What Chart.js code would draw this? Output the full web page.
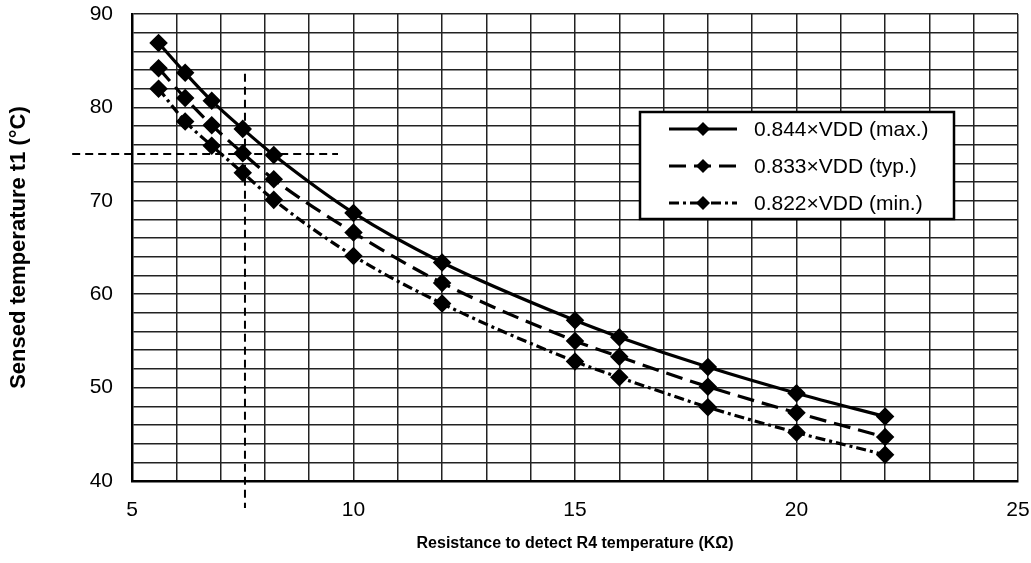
<!DOCTYPE html>
<html>
<head>
<meta charset="utf-8">
<script src="https://cdn.jsdelivr.net/npm/chart.js@4"></script>
<style>
  html, body { margin: 0; padding: 0; background: #fff; }
  #wrap { width: 1031px; height: 563px; }
</style>
</head>
<body>
<div id="wrap"><canvas id="chart" width="1031" height="563"></canvas></div>
<script>
// resistance values (kOhm)
const resist = [5.6, 6.2, 6.8, 7.5, 8.2, 10, 12, 15, 16, 18, 20, 22];
const tMax = [86.9, 83.7, 80.7, 77.7, 74.9, 68.7, 63.4, 57.2, 55.4, 52.2, 49.4, 46.9];
const tTyp = [84.2, 81.0, 78.1, 75.1, 72.3, 66.6, 61.2, 55.0, 53.3, 50.1, 47.3, 44.7];
const tMin = [82.0, 78.5, 75.9, 73.0, 70.1, 64.1, 59.0, 52.8, 51.1, 47.9, 45.2, 42.8];
const seriesNames = ['0.844×VDD (max.)', '0.833×VDD (typ.)', '0.822×VDD (min.)'];
const dashes = [[], [17, 8], [10, 4, 3, 4]];
// reading guide: R4 = 7.55 k -> 75 °C
const guideX = 7.55, guideY = 75;

const toPts = arr => resist.map((r, i) => ({x: r, y: arr[i]}));

const mkSet = (label, arr, dash) => ({
  label: label,
  data: toPts(arr),
  borderColor: '#000',
  backgroundColor: '#000',
  borderWidth: 3.2,
  borderDash: dash,
  pointStyle: 'rectRot',
  pointRadius: 7,
  pointHoverRadius: 7,
  tension: 0.3,
  cubicInterpolationMode: 'monotone'
});

const guides = {
  id: 'guides',
  afterDatasetsDraw(chart) {
    const {ctx, scales: {x, y}} = chart;
    ctx.save();
    ctx.strokeStyle = '#000';
    ctx.lineWidth = 2;
    ctx.setLineDash([8, 5]);
    ctx.beginPath();
    ctx.moveTo(x.getPixelForValue(guideX), y.getPixelForValue(83.6));
    ctx.lineTo(x.getPixelForValue(guideX), y.getPixelForValue(37.1));
    ctx.moveTo(x.getPixelForValue(3.65), y.getPixelForValue(guideY));
    ctx.lineTo(x.getPixelForValue(9.65), y.getPixelForValue(guideY));
    ctx.stroke();
    ctx.restore();
  }
};

const boxLegend = {
  id: 'boxLegend',
  afterDraw(chart) {
    const {ctx, chartArea} = chart;
    const left = chartArea.right - 378, top = chartArea.top + 98;
    const w = 314, h = 107;
    ctx.save();
    ctx.fillStyle = '#fff';
    ctx.fillRect(left, top, w, h);
    ctx.lineWidth = 2.5;
    ctx.strokeStyle = '#000';
    ctx.setLineDash([]);
    ctx.strokeRect(left, top, w, h);
    ctx.font = '21px "Liberation Sans", Arial, sans-serif';
    ctx.textBaseline = 'middle';
    ctx.fillStyle = '#000';
    seriesNames.forEach((name, i) => {
      const cy = top + 17 + i * 37;
      ctx.lineWidth = 3.2;
      ctx.setLineDash(dashes[i]);
      ctx.beginPath();
      ctx.moveTo(left + 29, cy);
      ctx.lineTo(left + 97, cy);
      ctx.stroke();
      ctx.setLineDash([]);
      ctx.beginPath();
      const mx = left + 63, r = 7;
      ctx.moveTo(mx, cy - r);
      ctx.lineTo(mx + r, cy);
      ctx.lineTo(mx, cy + r);
      ctx.lineTo(mx - r, cy);
      ctx.closePath();
      ctx.fill();
      ctx.fillText(name, left + 114, cy + 1);
    });
    ctx.restore();
  }
};

Chart.defaults.font.family = '"Liberation Sans", Arial, sans-serif';
Chart.defaults.color = '#000';

new Chart(document.getElementById('chart'), {
  type: 'line',
  data: {
    datasets: [
      mkSet(seriesNames[0], tMax, dashes[0]),
      mkSet(seriesNames[1], tTyp, dashes[1]),
      mkSet(seriesNames[2], tMin, dashes[2])
    ]
  },
  plugins: [guides, boxLegend],
  options: {
    responsive: false,
    animation: false,
    layout: { padding: { top: 0, right: 0, left: 6, bottom: 0 } },
    plugins: {
      legend: { display: false },
      tooltip: { enabled: false }
    },
    scales: {
      x: {
        type: 'linear',
        min: 5, max: 25,
        border: { color: '#000', width: 2.5 },
        grid: { color: '#222', lineWidth: 1.5, drawTicks: false },
        ticks: {
          stepSize: 1,
          autoSkip: false,
          maxRotation: 0,
          padding: 17,
          font: { size: 21 },
          callback: v => (v % 5 === 0 ? v : '')
        },
        title: {
          display: true,
          text: 'Resistance to detect R4 temperature (KΩ)',
          font: { size: 16, weight: 'bold' },
          padding: { top: 10, bottom: 10 }
        },
        afterFit: s => { s.height = 82; s.paddingRight = 13; s.paddingLeft = 0; }
      },
      y: {
        min: 40, max: 90,
        border: { color: '#000', width: 2.5 },
        grid: { color: '#222', lineWidth: 1.5, drawTicks: false },
        ticks: {
          stepSize: 2,
          autoSkip: false,
          padding: 19,
          font: { size: 21 },
          callback: v => (v % 10 === 0 ? v : '')
        },
        title: {
          display: true,
          text: 'Sensed temperature t1 (°C)',
          font: { size: 22, weight: 'bold' },
          padding: { top: 0, bottom: 20 }
        },
        afterFit: s => { s.width = 126; s.paddingTop = 14; s.paddingBottom = 0; }
      }
    }
  }
});
</script>
</body>
</html>
